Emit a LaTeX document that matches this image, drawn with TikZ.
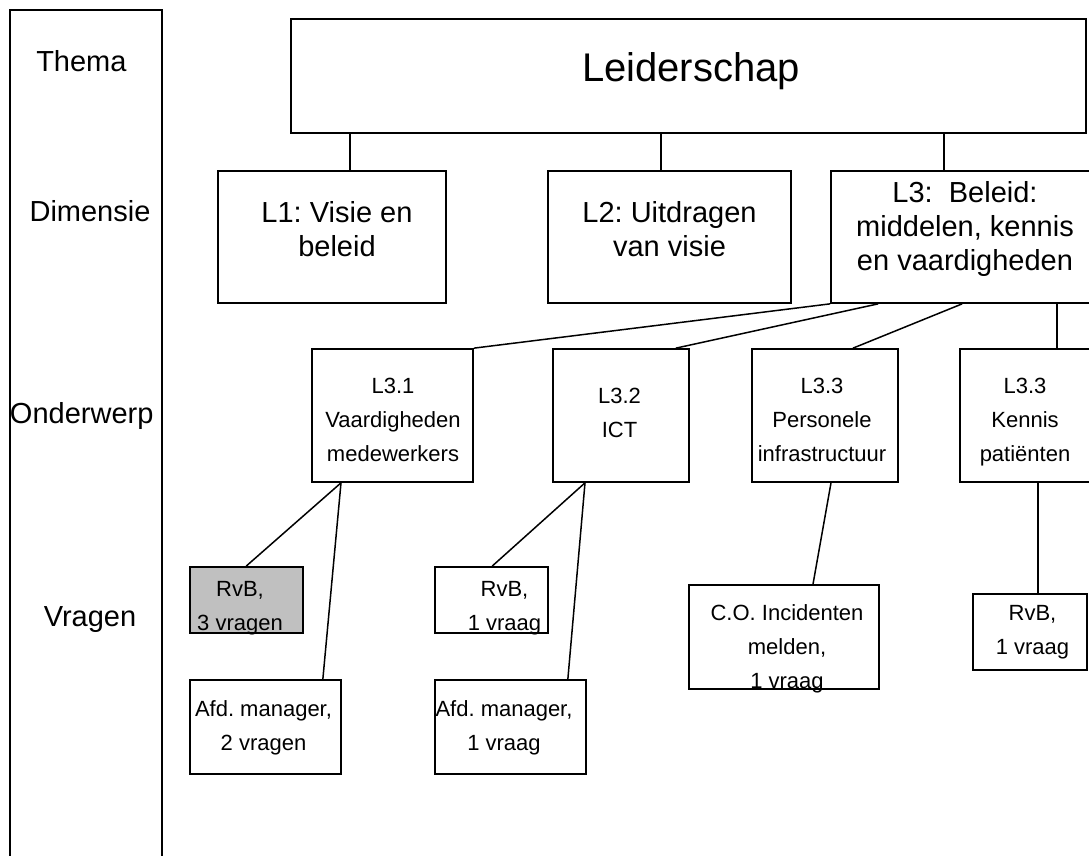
\documentclass[tikz,border=0pt]{standalone}
\usepackage{fontspec}
\setmainfont{Liberation Sans}
\usetikzlibrary{fit}

\definecolor{greybox}{HTML}{C0C0C0}

\tikzset{
  box/.style={draw,line width=1.7pt,inner sep=0pt},
  con/.style={line width=1.5pt},
  txt/.style={align=center,inner sep=0pt},
  bigfont/.style={font=\fontsize{40}{48}\selectfont},
  midfont/.style={font=\fontsize{29}{34}\selectfont},
  smallfont/.style={font=\fontsize{22}{34}\selectfont},
}

\begin{document}
\frenchspacing
\begin{tikzpicture}[x=1pt,y=-1pt,line cap=butt,line join=miter]
  \useasboundingbox[fill=white] (0,0) rectangle (1089,856);

  % left column
  \node[box,fit={(10,10) (162,870)}] (levels) {};
  \node[txt,midfont] (thema) at (81.4,61.3) {Thema};
  \node[txt,midfont] (dimensie) at (90,211.3) {Dimensie};
  \node[txt,midfont] (onderwerp) at (81.7,415.9) {Onderwerp};
  \node[txt,midfont] (vragen) at (90,619.3) {Vragen};

  % thema and dimensies
  \node[box,fit={(291,19) (1086,133)}] (lead) {};
  \node[box,fit={(218,171) (446,303)}] (l1) {};
  \node[box,fit={(548,171) (791,303)}] (l2) {};
  \node[box,fit={(831,171) (1095,303)}] (l3) {};
  \node[txt,bigfont] (leadt) at (691,71.4) {Leiderschap};
  \node[txt,midfont] (l1t) at (337,229.6) {L1: Visie en\\beleid};
  \node[txt,midfont] (l2t) at (669.5,229.6) {L2: Uitdragen\\van visie};
  \node[txt,midfont] (l3t) at (965,229.1) {L3:\ \ Beleid:\\middelen, kennis\\en vaardigheden};

  % onderwerpen
  \node[box,fit={(312,349) (473,482)}] (l31) {};
  \node[box,fit={(553,349) (689,482)}] (l32) {};
  \node[box,fit={(752,349) (898,482)}] (l33) {};
  \node[box,fit={(960,349) (1095,482)}] (l34) {};
  \node[txt,smallfont] (l31t) at (393,419.6) {L3.1\\Vaardigheden\\medewerkers};
  \node[txt,smallfont] (l32t) at (619.5,412.6) {L3.2\\ICT};
  \node[txt,smallfont] (l33t) at (822,419.6) {L3.3\\Personele\\infrastructuur};
  \node[txt,smallfont] (l34t) at (1025,421.9) {L3.3\\Kennis\\patiënten};

  % vragen
  \node[box,fill=greybox,fit={(190,567) (303,633)}] (rvb1) {};
  \node[box,fit={(190,680) (341,774)}] (afd1) {};
  \node[box,fit={(435,567) (548,633)}] (rvb2) {};
  \node[box,fit={(435,680) (586,774)}] (afd2) {};
  \node[box,fit={(689,585) (879,689)}] (co) {};
  \node[box,fit={(973,594) (1087,670)}] (rvb3) {};
  \node[txt,smallfont] (rvb1t) at (240,607.9) {RvB,\\3 vragen};
  \node[txt,smallfont] (afd1t) at (263.5,727.9) {Afd. manager,\\2 vragen};
  \node[txt,smallfont] (rvb2t) at (504.5,607.9) {RvB,\\1 vraag};
  \node[txt,smallfont] (afd2t) at (504,727.9) {Afd. manager,\\1 vraag};
  \node[txt,smallfont] (cot) at (787,648.7) {C.O. Incidenten\\melden,\\1 vraag};
  \node[txt,smallfont] (rvb3t) at (1032.5,631.9) {RvB,\\1 vraag};

  % connectors
  \draw[con] ([xshift=18pt]l1.north) -- ([xshift=18pt]l1.north |- lead.south);
  \draw[con] ([xshift=-8.5pt]l2.north) -- ([xshift=-8.5pt]l2.north |- lead.south);
  \draw[con] ([xshift=-19pt]l3.north) -- ([xshift=-19pt]l3.north |- lead.south);
  \draw[con] (l3.south west) -- (l31.north east);
  \draw[con] ([xshift=48pt]l3.south west) -- ([xshift=-14pt]l32.north east);
  \draw[con] ([xshift=132pt]l3.south west) -- ([xshift=28pt]l33.north);
  \draw[con] ([xshift=98pt]l34.north west) -- ([xshift=98pt]l34.north west |- l3.south);
  \draw[con] ([xshift=-51.5pt]l31.south) -- ([xshift=57pt]rvb1.north west);
  \draw[con] ([xshift=-51.5pt]l31.south) -- ([xshift=-19pt]afd1.north east);
  \draw[con] ([xshift=-36pt]l32.south) -- ([xshift=58pt]rvb2.north west);
  \draw[con] ([xshift=-36pt]l32.south) -- ([xshift=-19pt]afd2.north east);
  \draw[con] ([xshift=6pt]l33.south) -- ([xshift=29pt]co.north);
  \draw[con] ([xshift=79pt]l34.south west) -- ([xshift=79pt]l34.south west |- rvb3.north);
\end{tikzpicture}
\end{document}
